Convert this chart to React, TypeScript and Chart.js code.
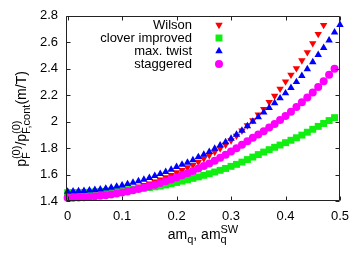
import React, { useEffect, useRef } from 'react';
import { Chart, registerables } from 'chart.js';
import { drawPoint } from 'chart.js/helpers';

Chart.register(...registerables);

const mq = [
  0, 0.01, 0.02, 0.03, 0.04, 0.05, 0.06, 0.07, 0.08, 0.09,
  0.1, 0.11, 0.12, 0.13, 0.14, 0.15, 0.16, 0.17, 0.18, 0.19,
  0.2, 0.21, 0.22, 0.23, 0.24, 0.25, 0.26, 0.27, 0.28, 0.29,
  0.3, 0.31, 0.32, 0.33, 0.34, 0.35, 0.36, 0.37, 0.38, 0.39,
  0.4, 0.41, 0.42, 0.43, 0.44, 0.45, 0.46, 0.47, 0.48, 0.49, 0.5,
];

const wilson = [
  1.440, 1.440, 1.441, 1.442, 1.445, 1.448, 1.452, 1.457, 1.463, 1.470,
  1.478, 1.487, 1.497, 1.508, 1.519, 1.532, 1.547, 1.562, 1.578, 1.596,
  1.616, 1.633, 1.654, 1.671, 1.696, 1.721, 1.746, 1.771, 1.797, 1.825,
  1.858, 1.893, 1.932, 1.972, 2.010, 2.053, 2.095, 2.148, 2.195, 2.248,
  2.303, 2.354, 2.403, 2.463, 2.524, 2.592, 2.662, 2.730,
];

const clover = [
  1.463, 1.463, 1.464, 1.465, 1.466, 1.468, 1.470, 1.473, 1.476, 1.479,
  1.482, 1.486, 1.490, 1.494, 1.498, 1.502, 1.507, 1.513, 1.521, 1.530,
  1.540, 1.550, 1.560, 1.571, 1.582, 1.594, 1.606, 1.619, 1.632, 1.646,
  1.662, 1.677, 1.694, 1.713, 1.732, 1.751, 1.770, 1.788, 1.806, 1.823,
  1.841, 1.859, 1.878, 1.898, 1.920, 1.942, 1.964, 1.986, 2.008, 2.030,
];

const maxTwist = [
  1.472, 1.473, 1.475, 1.477, 1.480, 1.484, 1.489, 1.495, 1.502, 1.510,
  1.519, 1.529, 1.539, 1.550, 1.562, 1.575, 1.590, 1.606, 1.620, 1.638,
  1.658, 1.676, 1.691, 1.709, 1.733, 1.751, 1.771, 1.797, 1.821, 1.846,
  1.872, 1.902, 1.932, 1.966, 2.000, 2.035, 2.070, 2.105, 2.140, 2.177,
  2.215, 2.255, 2.300, 2.347, 2.397, 2.450, 2.505, 2.558, 2.615, 2.675, 2.732,
];

const staggered = [
  1.425, 1.425, 1.426, 1.428, 1.431, 1.435, 1.439, 1.444, 1.450, 1.457,
  1.464, 1.472, 1.481, 1.490, 1.500, 1.511, 1.523, 1.536, 1.549, 1.563,
  1.578, 1.594, 1.610, 1.627, 1.645, 1.664, 1.684, 1.705, 1.727, 1.750,
  1.774, 1.799, 1.825, 1.852, 1.878, 1.903, 1.928, 1.955, 1.983, 2.012,
  2.043, 2.075, 2.110, 2.146, 2.183, 2.220, 2.262, 2.305, 2.354, 2.400,
];

const seriesLabels = ['Wilson', 'clover improved', 'max. twist', 'staggered'];
const seriesColors = ['#ff0000', '#11ee11', '#0000ff', '#ff00ff'];
const xTicks = [0, 0.1, 0.2, 0.3, 0.4, 0.5];
const yTicks = [1.4, 1.6, 1.8, 2, 2.2, 2.4, 2.6, 2.8];

type Part = { m?: string; sub?: string; sup?: string };
const yTitle: Part[] = [
  { m: 'p', sub: 'F', sup: '(0)' },
  { m: '/' },
  { m: 'p', sub: 'F,cont', sup: '(0)' },
  { m: '(m/T)' },
];
const xTitle: Part[] = [
  { m: 'am', sub: 'q' },
  { m: ', am', sub: 'q', sup: 'SW' },
];

const FAMILY = '"Liberation Sans", Arial, Helvetica, sans-serif';

function drawRich(ctx: CanvasRenderingContext2D, parts: Part[], cx: number, base: number, main: number, script: number) {
  const mf = `${main}px ${FAMILY}`;
  const sf = `${script}px ${FAMILY}`;
  const widths = parts.map((p) => {
    ctx.font = mf;
    const mw = p.m ? ctx.measureText(p.m).width : 0;
    ctx.font = sf;
    const sw = Math.max(p.sub ? ctx.measureText(p.sub).width : 0, p.sup ? ctx.measureText(p.sup).width : 0);
    return { mw, sw };
  });
  const total = widths.reduce((a, w) => a + w.mw + w.sw, 0);
  let x = cx - total / 2;
  ctx.textAlign = 'left';
  ctx.textBaseline = 'alphabetic';
  parts.forEach((p, i) => {
    if (p.m) {
      ctx.font = mf;
      ctx.fillText(p.m, x, base);
    }
    x += widths[i].mw;
    ctx.font = sf;
    if (p.sub) ctx.fillText(p.sub, x, base + main * 0.3);
    if (p.sup) ctx.fillText(p.sup, x, base - main * 0.45);
    x += widths[i].sw;
  });
}

const framePlugin = {
  id: 'gnuplotFrame',
  afterDraw(chart: any) {
    const { ctx, chartArea: a, scales } = chart;
    ctx.save();
    ctx.strokeStyle = '#222';
    ctx.lineWidth = 1;
    const L = Math.round(a.left) + 0.5;
    const R = Math.round(a.right) - 0.5;
    const T = Math.round(a.top) + 0.5;
    const B = Math.round(a.bottom) - 0.5;
    ctx.beginPath();
    ctx.rect(L, T, R - L, B - T);
    const tl = 4;
    xTicks.forEach((v) => {
      const px = Math.round(scales.x.getPixelForValue(v)) + 0.5;
      ctx.moveTo(px, B); ctx.lineTo(px, B - tl);
      ctx.moveTo(px, T); ctx.lineTo(px, T + tl);
    });
    yTicks.forEach((v) => {
      const py = Math.round(scales.y.getPixelForValue(v)) + 0.5;
      ctx.moveTo(L, py); ctx.lineTo(L + tl, py);
      ctx.moveTo(R, py); ctx.lineTo(R - tl, py);
    });
    ctx.stroke();

    ctx.fillStyle = '#000';
    drawRich(ctx, xTitle, 203, 239, 14, 11);
    ctx.save();
    ctx.translate(26, 119);
    ctx.rotate(-Math.PI / 2);
    drawRich(ctx, yTitle, 0, 0, 14, 11);
    ctx.restore();

    chart.data.datasets.forEach((ds: any, i: number) => {
      const y = 25 + 13 * i;
      ctx.fillStyle = '#000';
      ctx.font = `13px ${FAMILY}`;
      ctx.textAlign = 'right';
      ctx.textBaseline = 'middle';
      ctx.fillText(ds.label, 192, y + 0.5);
      ctx.fillStyle = ds.pointBackgroundColor;
      ctx.strokeStyle = ds.pointBackgroundColor;
      drawPoint(ctx, { pointStyle: ds.pointStyle, rotation: ds.pointRotation || 0, radius: ds.pointRadius, borderWidth: 0 } as any, 219, y);
    });
    ctx.restore();
  },
};

export default function App() {
  const ref = useRef<HTMLCanvasElement>(null);
  useEffect(() => {
    if (!ref.current) return;
    const mk = (vals: number[]) => vals.map((v, i) => ({ x: mq[i], y: v }));
    const styles = [
      { pointStyle: 'triangle', pointRotation: 180, pointRadius: 4.3, order: 4 },
      { pointStyle: 'rect', pointRotation: 0, pointRadius: 4.9, order: 3 },
      { pointStyle: 'triangle', pointRotation: 0, pointRadius: 4.3, order: 2 },
      { pointStyle: 'circle', pointRotation: 0, pointRadius: 4, order: 1 },
    ];
    const series = [wilson, clover, maxTwist, staggered];
    const chart = new Chart(ref.current, {
      type: 'scatter',
      data: {
        datasets: series.map((s, i) => ({
          label: seriesLabels[i],
          data: mk(s),
          pointBackgroundColor: seriesColors[i],
          pointBorderColor: seriesColors[i],
          pointBorderWidth: 0,
          showLine: false,
          clip: false,
          ...styles[i],
        })) as any,
      },
      options: {
        animation: false,
        responsive: false,
        devicePixelRatio: 1,
        events: [],
        layout: { padding: { left: 0, top: 15, right: 22, bottom: 0 } },
        plugins: { legend: { display: false }, tooltip: { enabled: false } },
        scales: {
          x: {
            type: 'linear',
            min: -0.003,
            max: 0.5,
            grid: { display: false, drawTicks: false },
            border: { display: false },
            ticks: { padding: 8, color: '#000', font: { size: 13, family: FAMILY }, maxRotation: 0, callback: (v: any) => String(v) },
            afterBuildTicks: (s: any) => { s.ticks = xTicks.map((v) => ({ value: v })); },
            afterFit: (s: any) => { s.height = 53; },
          },
          y: {
            type: 'linear',
            min: 1.4,
            max: 2.8,
            grid: { display: false, drawTicks: false },
            border: { display: false },
            ticks: { padding: 8, color: '#000', font: { size: 13, family: FAMILY }, callback: (v: any) => String(v) },
            afterBuildTicks: (s: any) => { s.ticks = yTicks.map((v) => ({ value: v })); },
            afterFit: (s: any) => { s.width = 66; },
          },
        },
      },
      plugins: [framePlugin],
    });
    return () => chart.destroy();
  }, []);
  return (
    <div style={{ position: 'fixed', left: 0, top: 0, width: 362, height: 254, background: '#fff' }}>
      <canvas ref={ref} width={362} height={254} />
    </div>
  );
}
